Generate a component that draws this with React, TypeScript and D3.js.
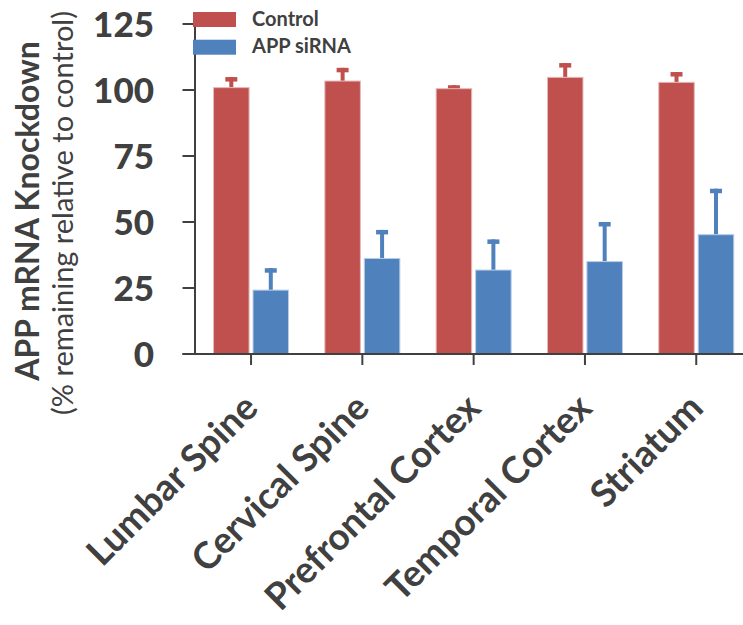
import React from "react";
import * as d3 from "d3";

const categories = ["Lumbar Spine", "Cervical Spine", "Prefrontal Cortex", "Temporal Cortex", "Striatum"];
const seriesNames = ["Control", "APP siRNA"];
const controlMean = [100.9, 103.4, 100.5, 104.8, 102.9];
const controlErr = [4.0, 5.0, 1.3, 5.4, 3.9];
const sirnaMean = [24.2, 36.2, 31.8, 35.0, 45.2];
const sirnaErr = [8.3, 10.8, 11.6, 15.0, 17.4];
const yTicks = [0, 25, 50, 75, 100, 125];

const COLORS = ["#C0504D", "#4F81BD"];
const OUTLINES = ["#E6B9B8", "#B9CDE5"];
const INK = "#404040";
const FONT = "Lato, 'Open Sans', sans-serif";

const W = 743;
const H = 625;

export default function App() {
  const y = d3.scaleLinear().domain([0, 125]).range([354, 24]);
  const x0 = d3.scaleBand<string>().domain(categories).range([195.4, 751.9]).paddingInner(0).paddingOuter(0);
  const x1 = d3.scaleBand<string>().domain(seriesNames).range([-37.5, 37.5]).paddingInner(0.1);

  const series = [
    { name: seriesNames[0], mean: controlMean, err: controlErr },
    { name: seriesNames[1], mean: sirnaMean, err: sirnaErr },
  ];

  const axisLeft = 195;
  const baseY = y(0);

  return (
    <div style={{ position: "fixed", left: 0, top: 0, width: W, height: H, background: "#fff" }}>
      <svg width={W} height={H} style={{ display: "block" }}>
        {/* bars with error bars */}
        {series.map((s, si) =>
          categories.map((c, ci) => {
            const cx = (x0(c) ?? 0) + x0.bandwidth() / 2;
            const bx = cx + (x1(s.name) ?? 0);
            const bw = x1.bandwidth();
            const mid = bx + bw / 2;
            const top = y(s.mean[ci]);
            const errTop = y(s.mean[ci] + s.err[ci]);
            return (
              <g key={`${si}-${ci}`}>
                <rect x={mid - 2} y={errTop} width={4} height={top - errTop} fill={COLORS[si]} />
                <rect x={mid - 6} y={errTop} width={12} height={4.5} fill={COLORS[si]} />
                <rect
                  x={bx}
                  y={top}
                  width={bw}
                  height={baseY - top}
                  fill={COLORS[si]}
                  stroke={OUTLINES[si]}
                  strokeWidth={1}
                />
              </g>
            );
          })
        )}

        {/* y axis */}
        <line x1={axisLeft} x2={axisLeft} y1={y(125)} y2={baseY} stroke={INK} strokeWidth={2} />
        {yTicks.map((t) => (
          <g key={t}>
            <line x1={182.5} x2={axisLeft} y1={y(t)} y2={y(t)} stroke={INK} strokeWidth={2} />
            <text
              x={154}
              y={y(t)}
              dy="0.36em"
              textAnchor="end"
              fontFamily={FONT}
              fontWeight={900}
              fontSize={35}
              fill={INK}
            >
              {t}
            </text>
          </g>
        ))}

        {/* x axis */}
        <line x1={182.5} x2={W} y1={baseY} y2={baseY} stroke={INK} strokeWidth={2} />
        {categories.map((c) => {
          const cx = (x0(c) ?? 0) + x0.bandwidth() / 2;
          return (
            <g key={c}>
              <line x1={cx} x2={cx} y1={baseY} y2={baseY + 11} stroke={INK} strokeWidth={2} />
              <text
                transform={`translate(${cx + 9},${410}) rotate(-45)`}
                textAnchor="end"
                fontFamily={FONT}
                fontWeight={700}
                fontSize={37}
                fill={INK}
              >
                {c}
              </text>
            </g>
          );
        })}

        {/* y axis title */}
        <text
          transform="translate(39,211) rotate(-90)"
          textAnchor="middle"
          fontFamily={FONT}
          fontWeight={700}
          fontSize={32}
          fill={INK}
        >
          APP mRNA Knockdown
        </text>
        <text
          transform="translate(73,213) rotate(-90)"
          textAnchor="middle"
          fontFamily={FONT}
          fontWeight={400}
          fontSize={29}
          fill={INK}
        >
          (% remaining relative to control)
        </text>

        {/* legend */}
        {seriesNames.map((n, i) => (
          <g key={n}>
            <rect x={193} y={12 + i * 27.7} width={43} height={15} fill={COLORS[i]} />
            <text
              x={252}
              y={26 + i * 27.3}
              fontFamily={FONT}
              fontWeight={700}
              fontSize={20}
              fill={INK}
            >
              {n}
            </text>
          </g>
        ))}
      </svg>
    </div>
  );
}
